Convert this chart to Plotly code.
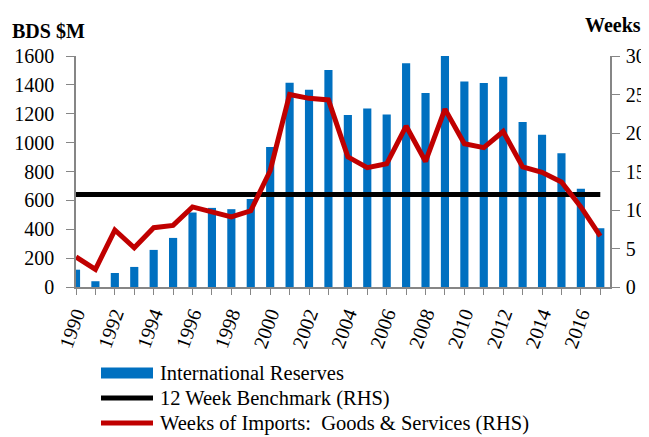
import plotly.graph_objects as go

years = list(range(1990, 2018))
reserves = [120, 40, 97, 139, 257, 340, 516, 548, 539, 610, 969, 1415, 1366, 1503,
            1191, 1237, 1195, 1549, 1343, 1600, 1424, 1413, 1456, 1142, 1054, 927, 680, 407]
weeks_imports = [3.9, 2.3, 7.4, 5.1, 7.7, 8.0, 10.4, 9.8, 9.1, 9.9, 15.1, 25.0, 24.5, 24.3,
                 16.9, 15.5, 16.0, 20.9, 16.3, 23.1, 18.6, 18.1, 20.2, 15.6, 14.9, 13.65, 10.4, 6.6]
benchmark = [12] * len(years)
tick_labels = [str(y) if y % 2 == 0 else "" for y in years]
series_names = ["International Reserves", "12 Week Benchmark (RHS)",
                "Weeks of Imports:  Goods & Services (RHS)"]

FONT = "Liberation Serif"
AXC = "#868686"
BLUE = "#0070C0"
RED = "#C00000"

fig = go.Figure()
fig.add_trace(go.Bar(x=years, y=reserves, name=series_names[0],
                     marker=dict(color=BLUE, line=dict(width=0)), width=0.42))
fig.add_trace(go.Scatter(x=years, y=benchmark, name=series_names[1], yaxis="y2",
                         mode="lines", line=dict(color="black", width=5)))
fig.add_trace(go.Scatter(x=years, y=weeks_imports, name=series_names[2],
                         yaxis="y2", mode="lines", line=dict(color=RED, width=5)))

# Legend drawn in paper space (keeps the plot area from being resized)
PLOT_H = 231.0
PLOT_W = 534.0
def py(px_below):  # pixels below plot bottom -> paper y
    return -px_below / PLOT_H
row_offsets = [86, 111, 136]
key_x0, key_x1, text_x = 25 / PLOT_W, 77 / PLOT_W, 82 / PLOT_W
shapes = [
    dict(type="rect", xref="paper", yref="paper", x0=key_x0, x1=key_x1,
         y0=py(row_offsets[0] - 5.5), y1=py(row_offsets[0] + 5.5),
         fillcolor=BLUE, line=dict(width=0)),
    dict(type="line", xref="paper", yref="paper", x0=key_x0, x1=key_x1,
         y0=py(row_offsets[1]), y1=py(row_offsets[1]), line=dict(color="black", width=5)),
    dict(type="line", xref="paper", yref="paper", x0=key_x0, x1=key_x1,
         y0=py(row_offsets[2]), y1=py(row_offsets[2]), line=dict(color=RED, width=5)),
]
annotations = [
    dict(text=name, xref="paper", yref="paper", x=text_x, y=py(off), xanchor="left",
         yanchor="middle", showarrow=False, font=dict(size=20.5))
    for name, off in zip(series_names, row_offsets)
]
annotations += [
    dict(text="<b>BDS $M</b>", xref="paper", yref="paper", x=-0.1236, y=1.108,
         xanchor="left", yanchor="middle", showarrow=False, font=dict(size=20)),
    dict(text="<b>Weeks</b>", xref="paper", yref="paper", x=1.062, y=1.134,
         xanchor="right", yanchor="middle", showarrow=False, font=dict(size=20)),
]

fig.update_layout(
    width=649, height=437,
    margin=dict(l=68, r=47, t=48, b=158),
    plot_bgcolor="white", paper_bgcolor="white",
    font=dict(family=FONT, size=20, color="black"),
    showlegend=False,
    xaxis=dict(range=[1990, 2017.5], tickmode="array", tickvals=years, ticktext=tick_labels,
               tickangle=-70, showline=True, linecolor=AXC, linewidth=1.5,
               ticks="outside", ticklen=6, tickcolor=AXC, showgrid=False, zeroline=False,
               tickfont=dict(size=20), automargin=False),
    yaxis=dict(range=[0, 1600], dtick=200, showline=True, linecolor=AXC, linewidth=1.5,
               ticks="outside", ticklen=8, tickcolor=AXC, showgrid=False, zeroline=False,
               tickfont=dict(size=20), automargin=False, ticklabelstandoff=8),
    yaxis2=dict(range=[0, 30], dtick=5, overlaying="y", side="right", showline=True,
                linecolor=AXC, linewidth=1.5, ticks="outside", ticklen=8, tickcolor=AXC,
                showgrid=False, zeroline=False, tickfont=dict(size=20), automargin=False,
                ticklabelstandoff=2),
    shapes=shapes,
    annotations=annotations,
)

fig.write_html("out.html")
